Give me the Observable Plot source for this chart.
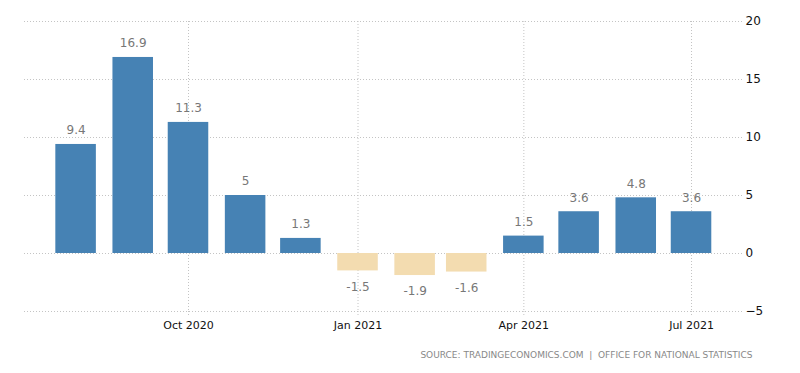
<!DOCTYPE html>
<html>
<head>
<meta charset="utf-8">
<script src="https://cdn.jsdelivr.net/npm/d3@7"></script>
<script src="https://cdn.jsdelivr.net/npm/@observablehq/plot@0.6"></script>
<style>
  html, body { margin: 0; padding: 0; background: #fff; }
</style>
</head>
<body>
<div id="chart"></div>
<script>
const months = ["2020-08","2020-09","2020-10","2020-11","2020-12","2021-01","2021-02","2021-03","2021-04","2021-05","2021-06","2021-07"];
const values = [9.4, 16.9, 11.3, 5, 1.3, -1.5, -1.9, -1.6, 1.5, 3.6, 4.8, 3.6];
const xTickDates = ["2020-10-01","2021-01-01","2021-04-01","2021-07-01"];
const yTicks = [-5, 0, 5, 10, 15, 20];
const sourceText = "SOURCE: TRADINGECONOMICS.COM  |  OFFICE FOR NATIONAL STATISTICS";

const data = months.map((m, i) => ({date: new Date(m + "-01"), value: values[i]}));
const xTicks = xTickDates.map(d => new Date(d));
const fmtMonth = d3.utcFormat("%b %Y");

const chart = Plot.plot({
  width: 800,
  height: 373,
  marginTop: 21,
  marginBottom: 62,
  marginLeft: 24,
  marginRight: 58,
  style: {fontFamily: "DejaVu Sans, sans-serif", background: "white"},
  x: {type: "utc", domain: [new Date("2020-07-04"), new Date("2021-07-28T16:00:00Z")]},
  y: {domain: [-5, 20]},
  marks: [
    Plot.gridY(yTicks, {stroke: "#c4c4c4", strokeOpacity: 1, strokeDasharray: "1,2"}),
    Plot.gridX(xTicks, {stroke: "#c4c4c4", strokeOpacity: 1, strokeDasharray: "1,2"}),
    Plot.axisX(xTicks, {tickSize: 6, tickPadding: 4, stroke: "#c4c4c4", strokeDasharray: "1,2",
      tickFormat: fmtMonth, fontSize: 11, fill: "#111", label: null}),
    Plot.axisY(yTicks, {anchor: "right", tickSize: 0, tickPadding: 3, fontSize: 12, fill: "#111", label: null}),
    Plot.rectY(data, {
      x1: d => d3.utcDay.offset(d.date, -11),
      x2: d => d3.utcDay.offset(d.date, 11),
      y: "value",
      fill: d => d.value >= 0 ? "#4682b4" : "#f3dcb0"
    }),
    Plot.text(data.filter(d => d.value >= 0), {x: "date", y: "value", text: d => String(d.value),
      dy: -14, fontSize: 12, fill: "#777"}),
    Plot.text(data.filter(d => d.value < 0), {x: "date", y: "value", text: d => String(d.value),
      dy: 16, fontSize: 12, fill: "#777"}),
    Plot.text([sourceText], {frameAnchor: "bottom-right", text: d => d, dx: 10, dy: 46,
      textAnchor: "end", fontSize: 9, fill: "#888"})
  ]
});
document.getElementById("chart").appendChild(chart);
</script>
</body>
</html>
